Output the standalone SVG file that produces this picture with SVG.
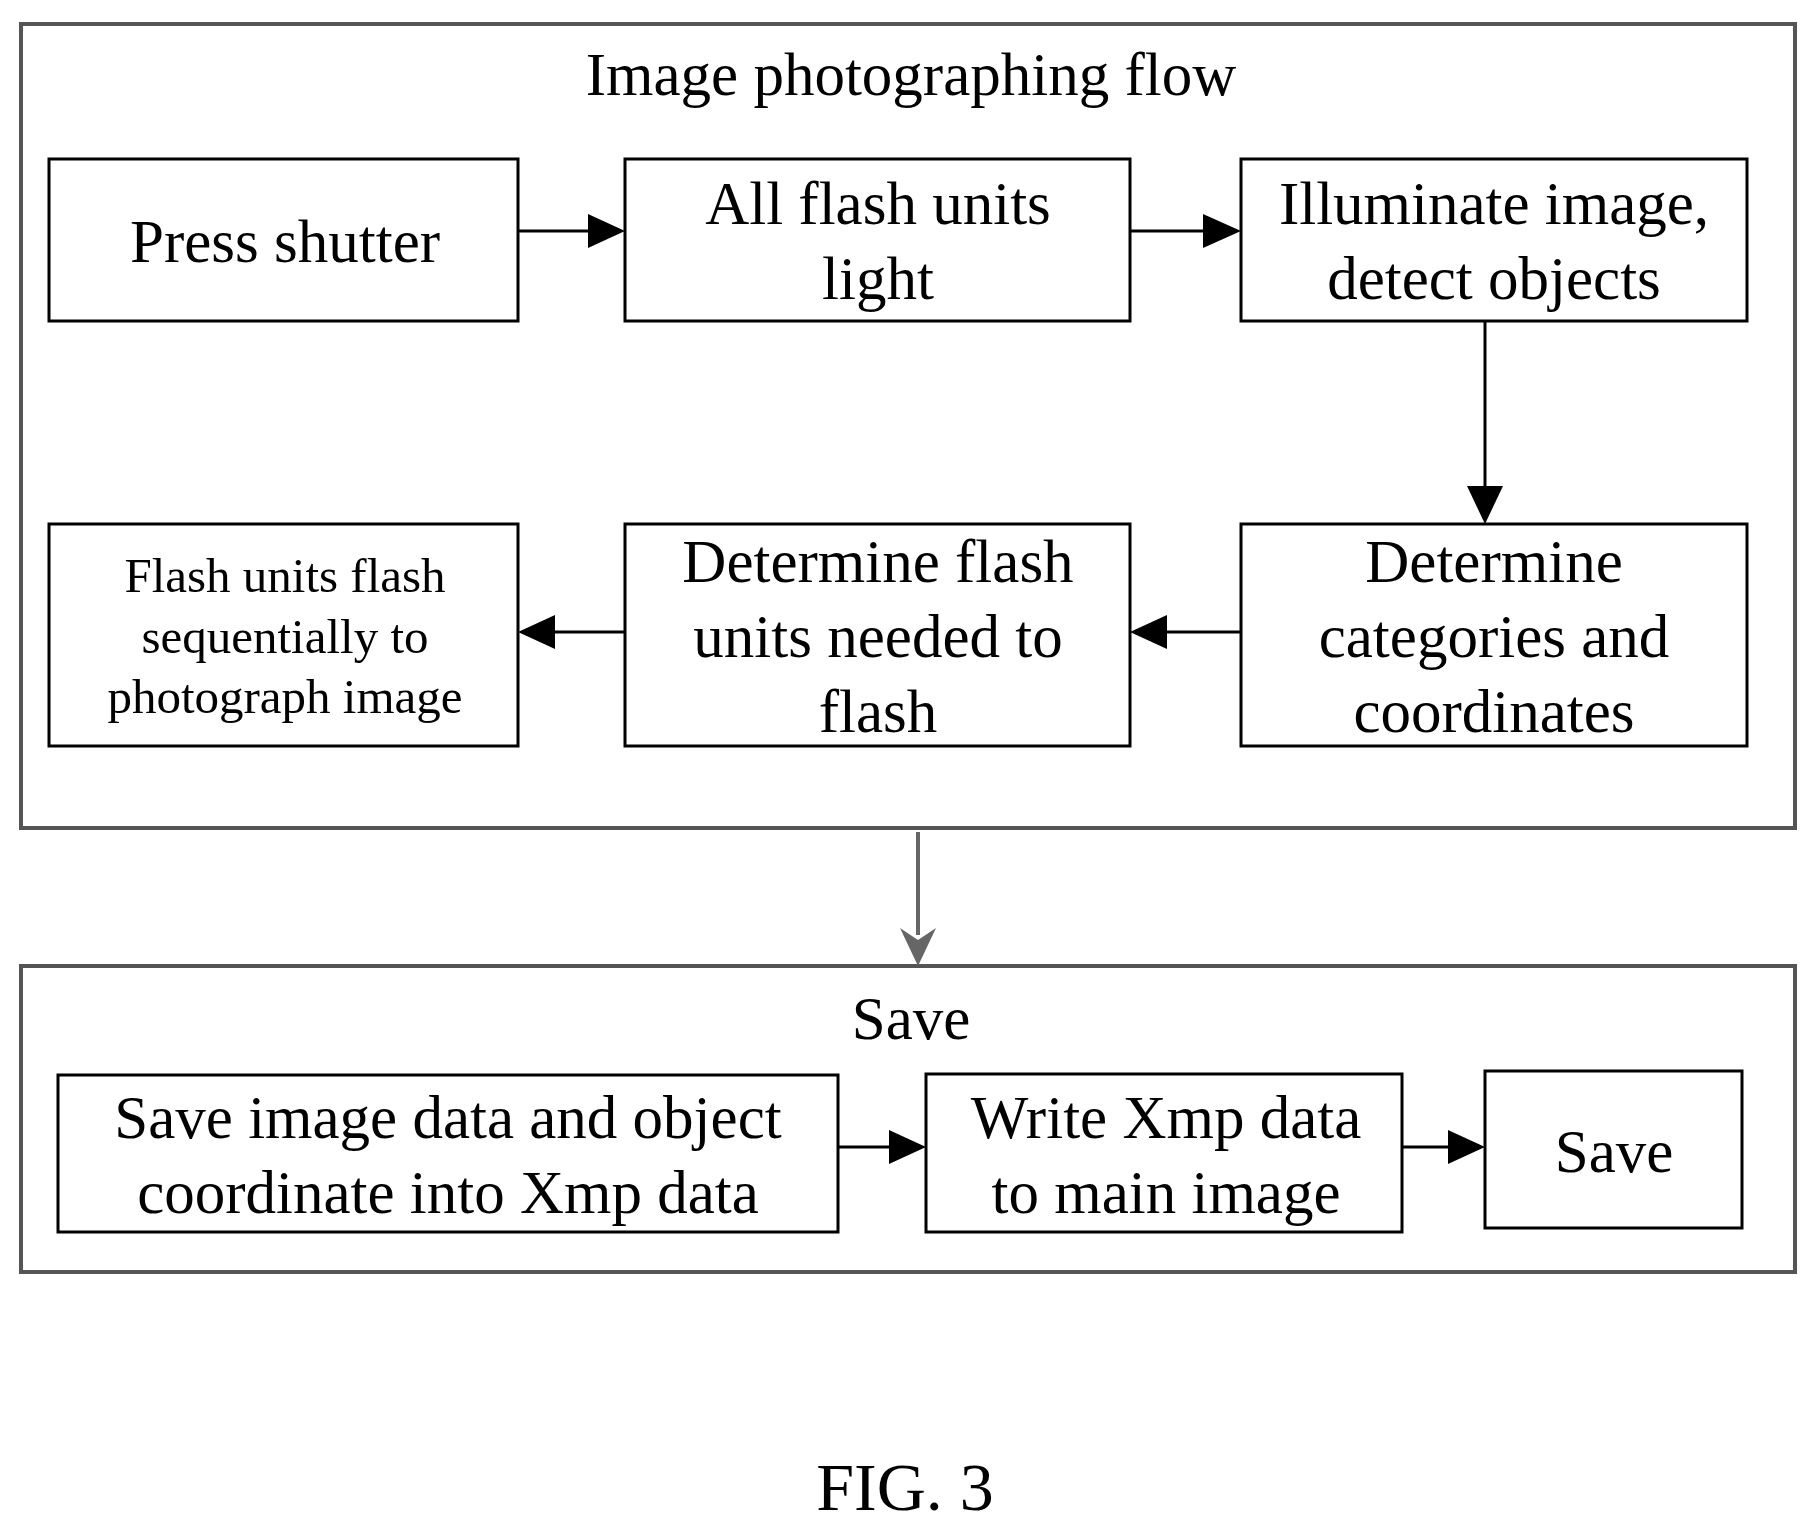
<svg xmlns="http://www.w3.org/2000/svg" width="1818" height="1523" viewBox="0 0 1818 1523">
<style>
.b{fill:#fff;stroke:#000;stroke-width:3}
.g{fill:none;stroke:#555;stroke-width:4}
text{font-family:"Liberation Serif",serif;text-anchor:middle;fill:#000}
.t{font-size:61px}.s{font-size:49px}
.c{stroke:#000;stroke-width:3;fill:none}
</style>
<g id="flow"><rect class="g" x="21" y="24" width="1774" height="804"/><text class="t" x="911" y="95">Image photographing flow</text></g>
<g id="save"><rect class="g" x="21" y="966" width="1774" height="306"/><text class="t" x="911" y="1039">Save</text></g>
<g id="n1"><rect class="b" x="49" y="159" width="469" height="162"/><text class="t" x="285" y="262">Press shutter</text></g>
<g id="n2"><rect class="b" x="625" y="159" width="505" height="162"/><text class="t" x="878" y="224">All flash units</text><text class="t" x="878" y="299">light</text></g>
<g id="n3"><rect class="b" x="1241" y="159" width="506" height="162"/><text class="t" x="1494" y="224">Illuminate image,</text><text class="t" x="1494" y="299">detect objects</text></g>
<g id="n4"><rect class="b" x="1241" y="524" width="506" height="222"/><text class="t" x="1494" y="582">Determine</text><text class="t" x="1494" y="657">categories and</text><text class="t" x="1494" y="732">coordinates</text></g>
<g id="n5"><rect class="b" x="625" y="524" width="505" height="222"/><text class="t" x="878" y="582">Determine flash</text><text class="t" x="878" y="657">units needed to</text><text class="t" x="878" y="732">flash</text></g>
<g id="n6"><rect class="b" x="49" y="524" width="469" height="222"/><text class="s" x="285" y="592">Flash units flash</text><text class="s" x="285" y="653">sequentially to</text><text class="s" x="285" y="713">photograph image</text></g>
<g id="n7"><rect class="b" x="58" y="1075" width="780" height="157"/><text class="t" x="448" y="1138">Save image data and object</text><text class="t" x="448" y="1213">coordinate into Xmp data</text></g>
<g id="n8"><rect class="b" x="926" y="1074" width="476" height="158"/><text class="t" x="1166" y="1138">Write Xmp data</text><text class="t" x="1166" y="1213">to main image</text></g>
<g id="n9"><rect class="b" x="1485" y="1071" width="257" height="157"/><text class="t" x="1614" y="1172">Save</text></g>
<g id="connectors">
<path class="c" d="M518,231H595"/><path d="M588,214L625,231L588,248z"/>
<path class="c" d="M1130,231H1210"/><path d="M1203,214L1241,231L1203,248z"/>
<path class="c" d="M1485,321V495"/><path d="M1467,486L1485,524L1503,486z"/>
<path class="c" d="M1241,632H1160"/><path d="M1167,615L1130,632L1167,649z"/>
<path class="c" d="M625,632H548"/><path d="M555,615L518,632L555,649z"/>
<path class="c" d="M838,1147H900"/><path d="M889,1130L926,1147L889,1164z"/>
<path class="c" d="M1402,1147H1455"/><path d="M1448,1130L1485,1147L1448,1164z"/>
<path d="M918,832V935" stroke="#666" stroke-width="4"/><path d="M900,928L918,966L936,928L918,940z" fill="#666"/>
</g>
<text x="905" y="1510" style="font-size:68px">FIG. 3</text>
</svg>
